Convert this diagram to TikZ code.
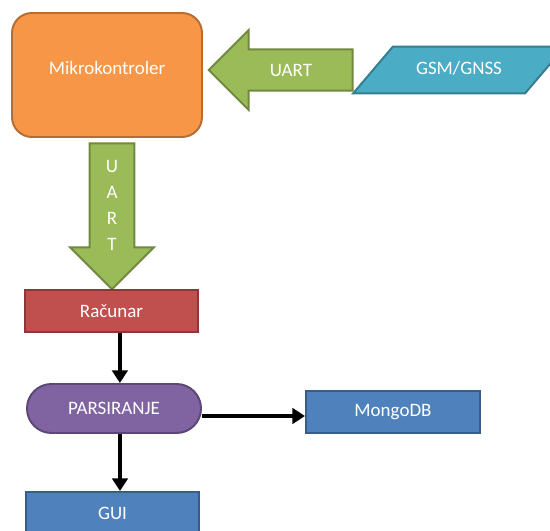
\documentclass[tikz,border=0pt]{standalone}
\usepackage{fontspec}
\setmainfont{Carlito}
\usepackage{xcolor}
\usetikzlibrary{arrows.meta, positioning, shapes.geometric, shapes.arrows}
\definecolor{mcuFill}{HTML}{F79646}
\definecolor{mcuLine}{HTML}{B66D31}
\definecolor{busFill}{HTML}{9BBB59}
\definecolor{busLine}{HTML}{71893F}
\definecolor{gsmFill}{HTML}{4BACC6}
\definecolor{gsmLine}{HTML}{357D91}
\definecolor{pcFill}{HTML}{C0504D}
\definecolor{pcLine}{HTML}{8C3836}
\definecolor{parseFill}{HTML}{8064A2}
\definecolor{parseLine}{HTML}{5C4776}
\definecolor{dbFill}{HTML}{4F81BD}
\definecolor{dbLine}{HTML}{385D8A}

\begin{document}
\begin{tikzpicture}[
  box/.style={rectangle, draw, line width=1.4pt, text=white,
              text centered, font=\fontsize{13.5}{16}\selectfont,
              minimum height=1.05cm, minimum width=4.325cm},
  bus/.style={single arrow, draw=busLine, fill=busFill, line width=1.4pt,
              text=white, font=\fontsize{13.5}{16}\selectfont,
              single arrow tip angle=90},
  link/.style={-{Triangle[length=9pt, width=11pt]}, line width=3.4pt},
  every node/.style={align=center}
]
\useasboundingbox (0,0) rectangle (13.75,13.25);
\clip (0,0) rectangle (13.75,13.25);

% Microcontroller and GSM module
\node[box, draw=mcuLine, fill=mcuFill, rounded corners=0.5cm,
      minimum width=4.75cm, minimum height=3.1cm,
      text height=9.6pt, text depth=10.6pt] (mcu) at (2.675, 11.375)
      {Mikrokontroler};
\node[trapezium, trapezium left angle=49.6, trapezium right angle=130.4,
      draw=gsmLine, fill=gsmFill, line width=1.4pt,
      text=white, font=\fontsize{13.5}{16}\selectfont,
      text width=3.3cm, inner xsep=0pt, inner ysep=10.2pt,
      text height=9.6pt, text depth=3.4pt] (gsm) at (11.475, 11.5)
      {GSM/GNSS};

% UART links
\node[bus, shape border rotate=180, minimum height=3.6cm, minimum width=2.0cm,
      inner ysep=2.5pt] (uart_in) at (7.275, 11.5) {UART};
\node[bus, shape border rotate=270, minimum height=3.65cm, minimum width=2.1cm,
      inner xsep=3pt, font=\fontsize{13.5}{18.5}\selectfont]
      (uart_out) at (2.8, 8.12) {U\\A\\R\\T};

% PC side
\node[box, draw=pcLine, fill=pcFill] (rac) at (2.7875, 5.475) {Računar};
\node[box, draw=parseLine, fill=parseFill, rounded corners=0.61cm,
      minimum width=4.35cm, minimum height=1.225cm] (pars) at (2.85, 3.0375)
      {PARSIRANJE};
\node[box, draw=dbLine, fill=dbFill, minimum width=4.35cm] (mongo) at (9.825, 2.95)
      {MongoDB};
\node[box, draw=dbLine, fill=dbFill] (gui) at (2.8125, 0.425) {GUI};

\draw[link] ([xshift=0.21cm]rac.south) -- ([xshift=0.21cm]rac.south |- pars.north);
\draw[link] ([xshift=0.15cm]pars.south) -- ([xshift=0.15cm]pars.south |- gui.north);
\draw[link] ([yshift=-0.1cm]mongo.west -| pars.east) -- ([yshift=-0.1cm]mongo.west);

\end{tikzpicture}
\end{document}
